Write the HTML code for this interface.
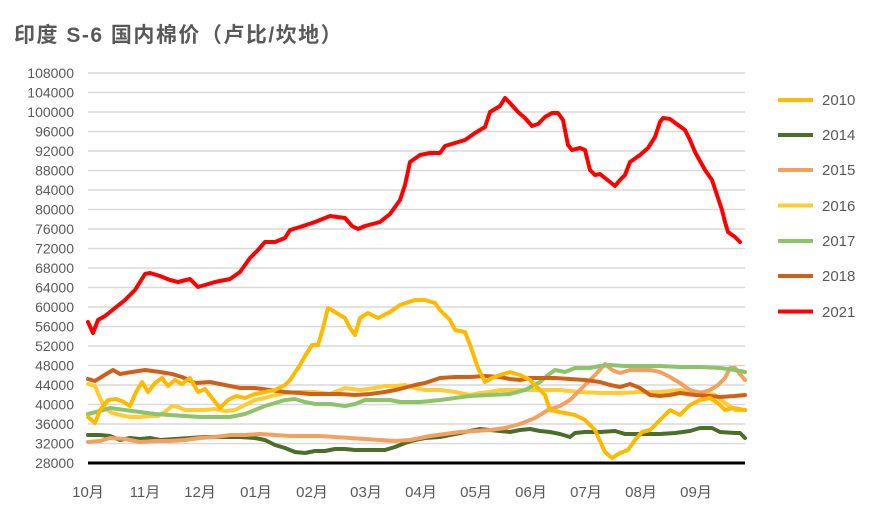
<!DOCTYPE html>
<html><head><meta charset="utf-8"><style>
body{margin:0;background:#fff;}
svg text{font-family:"Liberation Sans","Noto Sans CJK SC",sans-serif;fill:#595959;}
</style></head><body>
<svg width="883" height="515" viewBox="0 0 883 515" xmlns="http://www.w3.org/2000/svg">
<text x="14" y="42" font-size="21" font-weight="bold" style="letter-spacing:1.5px">印度 S-6 国内棉价（卢比/坎地）</text>
<g stroke="#d9d9d9" stroke-width="1.5">
<line x1="88" x2="745" y1="73" y2="73"/><line x1="88" x2="745" y1="92.5" y2="92.5"/><line x1="88" x2="745" y1="112" y2="112"/><line x1="88" x2="745" y1="131.5" y2="131.5"/><line x1="88" x2="745" y1="151" y2="151"/><line x1="88" x2="745" y1="170.5" y2="170.5"/><line x1="88" x2="745" y1="190" y2="190"/><line x1="88" x2="745" y1="209.5" y2="209.5"/><line x1="88" x2="745" y1="229" y2="229"/><line x1="88" x2="745" y1="248.5" y2="248.5"/><line x1="88" x2="745" y1="268" y2="268"/><line x1="88" x2="745" y1="287.5" y2="287.5"/><line x1="88" x2="745" y1="307" y2="307"/><line x1="88" x2="745" y1="326.5" y2="326.5"/><line x1="88" x2="745" y1="346" y2="346"/><line x1="88" x2="745" y1="365.5" y2="365.5"/><line x1="88" x2="745" y1="385" y2="385"/><line x1="88" x2="745" y1="404.5" y2="404.5"/><line x1="88" x2="745" y1="424" y2="424"/><line x1="88" x2="745" y1="443.5" y2="443.5"/>
</g>
<g font-size="14" text-anchor="end">
<text x="74" y="78">108000</text><text x="74" y="97.5">104000</text><text x="74" y="117">100000</text><text x="74" y="136.5">96000</text><text x="74" y="156">92000</text><text x="74" y="175.5">88000</text><text x="74" y="195">84000</text><text x="74" y="214.5">80000</text><text x="74" y="234">76000</text><text x="74" y="253.5">72000</text><text x="74" y="273">68000</text><text x="74" y="292.5">64000</text><text x="74" y="312">60000</text><text x="74" y="331.5">56000</text><text x="74" y="351">52000</text><text x="74" y="370.5">48000</text><text x="74" y="390">44000</text><text x="74" y="409.5">40000</text><text x="74" y="429">36000</text><text x="74" y="448.5">32000</text><text x="74" y="468">28000</text>
</g>
<g font-size="15" text-anchor="middle">
<text x="88" y="497">10月</text><text x="145" y="497">11月</text><text x="200" y="497">12月</text><text x="256" y="497">01月</text><text x="312" y="497">02月</text><text x="366" y="497">03月</text><text x="421" y="497">04月</text><text x="476" y="497">05月</text><text x="531" y="497">06月</text><text x="586" y="497">07月</text><text x="641" y="497">08月</text><text x="696" y="497">09月</text>
</g>
<g fill="none" stroke-width="4" stroke-linejoin="round" stroke-linecap="round">
<polyline stroke="#FFCC33" points="88,384 95,386 100,398 105,408 112,413 120,415 130,417 140,417 150,416 158,416 165,412 172,406 178,407 185,410 195,410 205,410 215,409 225,411 235,410 245,405 255,400 265,398 275,395 285,393 300,392 315,392 330,394 345,388 360,390 375,388 385,386 395,386 405,385 415,388 425,390 440,390 455,392 470,395 480,393 490,392 500,390 520,390 540,390 560,390 580,392 600,393 620,393 640,392 660,392 680,390 700,392 715,395 725,403 735,410 745,410"/>
<polyline stroke="#4A6F28" points="88,435 100,435 110,436 120,440 130,438 140,439 150,438 160,440 175,439 190,438 205,437 220,437 240,437 255,438 265,440 275,445 285,448 295,452 305,453 315,451 325,451 335,449 345,449 355,450 370,450 385,450 395,447 405,443 415,440 425,438 440,437 455,434 470,431 480,429 490,430 500,431 510,432 520,430 530,429 540,431 550,432 560,434 570,437 575,433 585,432 600,432 615,431 625,434 640,434 660,434 675,433 690,431 700,428 712,428 720,432 735,433 740,433 745,438"/>
<polyline stroke="#F4A060" points="88,442 100,441 110,438 125,439 140,442 155,441 170,441 185,440 200,438 215,437 230,435 245,435 260,434 275,435 290,436 305,436 320,436 335,437 350,438 365,439 380,440 395,441 410,440 420,438 430,436 445,434 460,432 475,431 490,430 505,428 520,424 535,418 548,410 560,406 570,400 580,390 590,380 598,372 605,364 612,370 620,373 630,370 640,370 650,370 660,372 670,377 680,383 690,390 700,393 710,390 718,385 725,378 730,368 735,368 745,380"/>
<polyline stroke="#8DC46A" points="88,414 100,411 110,408 125,410 140,412 155,414 170,415 185,416 200,417 215,417 230,417 245,414 255,410 265,406 275,403 285,400 295,399 305,402 315,404 330,404 345,406 355,404 365,400 375,400 390,400 400,402 420,402 440,400 455,398 470,396 490,395 510,394 525,390 540,382 548,375 555,370 565,372 575,368 590,368 600,366 610,365 625,366 640,366 660,366 680,367 700,367 720,368 735,370 745,372"/>
<polyline stroke="#D06018" points="88,379 95,381 103,376 113,370 120,374 132,372 145,370 160,372 172,374 182,377 195,383 210,382 225,385 240,388 255,388 270,390 285,392 300,393 310,394 325,394 340,394 355,395 370,394 385,392 400,389 415,385 425,383 440,378 455,377 470,377 485,376 500,377 510,379 520,380 530,378 540,378 555,378 570,379 585,380 600,382 610,385 620,387 630,384 640,388 650,395 660,396 670,395 680,393 695,395 710,396 720,397 735,396 745,395"/>
<polyline stroke="#FFBA00" points="88,417 95,423 100,410 108,400 116,399 124,402 130,406 136,392 142,382 148,392 155,383 162,378 168,386 175,380 182,384 190,378 198,392 205,389 212,398 220,408 228,400 236,396 245,398 255,394 265,392 275,390 285,385 290,380 300,365 305,356 312,345 318,345 323,328 328,308 335,312 345,318 350,328 355,335 360,318 368,313 378,318 390,312 400,305 415,300 425,300 435,303 440,310 450,320 455,330 465,332 470,345 478,368 485,382 492,378 500,375 510,372 520,375 530,380 538,388 545,395 550,410 560,412 575,415 585,420 595,430 605,452 612,458 620,453 628,450 635,440 642,432 650,430 660,420 670,410 680,415 690,405 700,400 710,398 718,403 725,410 733,408 745,410"/>
<polyline stroke="#FF0000" points="88,322 93,333 98,320 105,316 115,308 125,300 135,290 145,274 150,273 160,276 170,280 178,282 190,279 198,287 205,285 215,282 230,279 240,272 250,258 258,250 265,242 275,242 285,238 290,230 300,227 315,222 330,216 345,218 352,226 358,229 365,226 380,222 390,214 400,200 405,185 410,162 420,155 430,153 440,153 445,146 455,143 465,140 475,133 485,127 490,112 500,106 505,98 510,103 518,112 525,118 532,126 538,124 545,117 552,113 558,113 563,120 568,145 572,150 580,148 585,150 590,170 595,175 600,174 610,182 615,186 620,180 625,175 630,162 640,155 648,148 655,137 660,122 663,118 670,119 678,125 685,130 690,140 695,152 705,170 712,180 718,198 722,210 725,222 728,232 735,237 740,242"/>
</g>
<line x1="88" x2="745" y1="463" y2="463" stroke="#000" stroke-width="3"/>
<g stroke-width="4">
<line x1="778" x2="813" y1="100" y2="100" stroke="#FFBA00"/>
<line x1="778" x2="813" y1="135" y2="135" stroke="#4A6F28"/>
<line x1="778" x2="813" y1="170" y2="170" stroke="#F4A060"/>
<line x1="778" x2="813" y1="205.5" y2="205.5" stroke="#FFCC33"/>
<line x1="778" x2="813" y1="241" y2="241" stroke="#8DC46A"/>
<line x1="778" x2="813" y1="276" y2="276" stroke="#D06018"/>
<line x1="778" x2="813" y1="311.5" y2="311.5" stroke="#FF0000"/>
</g>
<g font-size="15">
<text x="822" y="105">2010</text><text x="822" y="140">2014</text><text x="822" y="175">2015</text><text x="822" y="211">2016</text><text x="822" y="246">2017</text><text x="822" y="281">2018</text><text x="822" y="317">2021</text>
</g>
</svg>
</body></html>
